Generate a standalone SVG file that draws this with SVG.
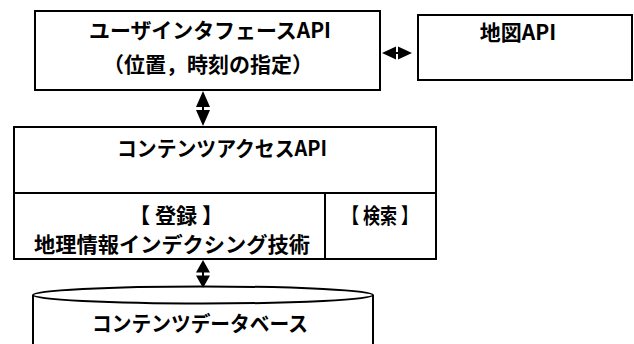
<svg xmlns="http://www.w3.org/2000/svg" width="634" height="344" viewBox="0 0 634 344">
<style>
.box{fill:#fff;stroke:#000;stroke-width:2}
.t{font-family:"Noto Sans CJK JP","Liberation Sans",sans-serif;font-weight:bold;font-size:21px;fill:#000;text-anchor:middle}
.c{stroke:#000;stroke-width:2;fill:none}
.h{fill:#000;stroke:none}
</style>
<rect width="634" height="344" fill="#fff"/>
<g id="ui">
<rect class="box" x="35" y="11" width="345" height="79"/>
<text class="t" x="210" y="38" textLength="242" lengthAdjust="spacingAndGlyphs">ユーザインタフェースAPI</text>
<text class="t" x="208" y="72" textLength="210" lengthAdjust="spacingAndGlyphs">（位置，時刻の指定）</text>
</g>
<g id="map">
<rect class="box" x="418" y="15" width="214" height="65"/>
<text class="t" x="518" y="40">地図API</text>
</g>
<g id="access">
<rect class="box" x="14" y="127" width="422" height="132"/>
<line class="c" x1="14" y1="193" x2="436" y2="193"/>
<line class="c" x1="325" y1="193" x2="325" y2="259"/>
<text class="t" x="222" y="156" textLength="210" lengthAdjust="spacingAndGlyphs">コンテンツアクセスAPI</text>
<text class="t" x="176" y="223" xml:space="preserve" textLength="94" lengthAdjust="spacingAndGlyphs">【 登録 】</text>
<text class="t" x="380" y="223" xml:space="preserve" textLength="76" lengthAdjust="spacingAndGlyphs">【 検索 】</text>
<text class="t" x="172" y="252" textLength="276" lengthAdjust="spacingAndGlyphs">地理情報インデクシング技術</text>
</g>
<g id="db">
<path class="box" d="M33,295 L33,346 L373,346 L373,295"/>
<ellipse class="box" cx="203" cy="295" rx="170" ry="8.5"/>
<text class="t" x="200" y="331" textLength="216" lengthAdjust="spacingAndGlyphs">コンテンツデータベース</text>
</g>
<g id="connectors">
<line class="c" x1="390" y1="53" x2="404" y2="53"/>
<path class="h" d="M382,53 L396,46.5 L396,59.5 Z M412,53 L398,46.5 L398,59.5 Z"/>
<line class="c" x1="203" y1="100" x2="203" y2="117"/>
<path class="h" d="M203,91 L196,107 L210,107 Z M203,126 L196,110 L210,110 Z"/>
<line class="c" x1="203" y1="266" x2="203" y2="282"/>
<path class="h" d="M203,260 L196,272.5 L210,272.5 Z M203,288 L196,275.5 L210,275.5 Z"/>
</g>
</svg>
